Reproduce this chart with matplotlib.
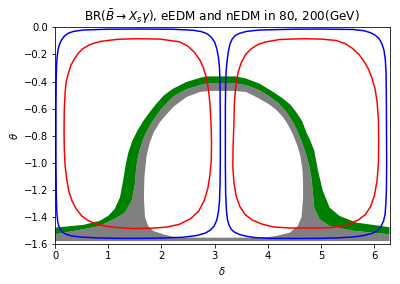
import numpy as np
import matplotlib
matplotlib.use("Agg")
import matplotlib.pyplot as plt
from matplotlib.patches import Polygon

# ---- data (delta, theta) ----
blue_left_x = [0.025, 0.018, 0.018, 0.022, 0.03, 0.042, 0.06, 0.085, 0.12, 0.17, 0.24, 0.35, 0.53, 1.0, 1.57, 2.2, 2.6, 2.75, 2.86, 2.94, 3.0, 3.04, 3.07, 3.09, 3.10, 3.105, 3.105, 3.10, 3.09, 3.07, 3.04, 2.99, 2.92, 2.82, 2.65, 2.4, 2.0, 1.6, 1.16, 0.8, 0.46, 0.3, 0.2, 0.14, 0.1, 0.07, 0.05, 0.035]
blue_left_y = [-1.25, -1.0, -0.6, -0.4, -0.28, -0.21, -0.16, -0.125, -0.095, -0.068, -0.045, -0.03, -0.02, -0.014, -0.013, -0.014, -0.022, -0.032, -0.048, -0.075, -0.11, -0.16, -0.22, -0.30, -0.42, -0.7, -1.0, -1.15, -1.28, -1.36, -1.42, -1.465, -1.495, -1.518, -1.536, -1.548, -1.554, -1.556, -1.556, -1.553, -1.546, -1.537, -1.525, -1.51, -1.49, -1.465, -1.43, -1.37]

blue_right_x = [3.20, 3.20, 3.205, 3.215, 3.235, 3.26, 3.29, 3.33, 3.39, 3.46, 3.6, 3.84, 4.5, 5.0, 5.6, 5.8, 5.93, 6.02, 6.09, 6.14, 6.18, 6.205, 6.22, 6.225, 6.23, 6.225, 6.215, 6.2, 6.17, 6.12, 6.05, 5.95, 5.8, 5.59, 5.3, 4.97, 4.5, 4.03, 3.75, 3.59, 3.46, 3.37, 3.31, 3.27, 3.24, 3.22, 3.205]
blue_right_y = [-1.0, -0.6, -0.42, -0.32, -0.24, -0.17, -0.12, -0.085, -0.06, -0.045, -0.03, -0.02, -0.014, -0.013, -0.016, -0.025, -0.04, -0.06, -0.085, -0.12, -0.17, -0.24, -0.35, -0.6, -1.0, -1.2, -1.3, -1.38, -1.43, -1.47, -1.5, -1.52, -1.535, -1.546, -1.553, -1.556, -1.557, -1.556, -1.55, -1.54, -1.527, -1.51, -1.49, -1.46, -1.42, -1.35, -1.22]

red_left_x = [0.17, 0.175, 0.19, 0.21, 0.25, 0.30, 0.36, 0.44, 0.53, 0.65, 0.84, 1.16, 1.5, 1.97, 2.34, 2.50, 2.62, 2.72, 2.79, 2.84, 2.88, 2.91, 2.93, 2.94, 2.935, 2.91, 2.87, 2.80, 2.70, 2.55, 2.34, 2.1, 1.8, 1.47, 1.2, 0.97, 0.78, 0.62, 0.50, 0.40, 0.32, 0.26, 0.22, 0.19, 0.175]
red_left_y = [-0.76, -0.6, -0.48, -0.40, -0.34, -0.28, -0.235, -0.19, -0.156, -0.128, -0.105, -0.089, -0.084, -0.087, -0.107, -0.14, -0.185, -0.24, -0.30, -0.37, -0.45, -0.56, -0.7, -0.85, -0.98, -1.09, -1.19, -1.28, -1.355, -1.41, -1.452, -1.473, -1.482, -1.484, -1.478, -1.468, -1.45, -1.425, -1.39, -1.34, -1.28, -1.21, -1.12, -1.02, -0.9]

red_right_x = [3.36, 3.37, 3.40, 3.44, 3.50, 3.58, 3.68, 3.82, 3.97, 4.22, 4.66, 5.0, 5.28, 5.45, 5.59, 5.71, 5.81, 5.89, 5.95, 6.01, 6.05, 6.075, 6.08, 6.075, 6.05, 6.0, 5.93, 5.83, 5.70, 5.47, 5.2, 4.97, 4.41, 4.1, 3.88, 3.70, 3.57, 3.47, 3.40, 3.36, 3.34, 3.345]
red_right_y = [-0.72, -0.55, -0.42, -0.33, -0.26, -0.20, -0.16, -0.125, -0.107, -0.09, -0.084, -0.087, -0.097, -0.12, -0.156, -0.20, -0.255, -0.31, -0.37, -0.45, -0.55, -0.68, -0.85, -1.0, -1.13, -1.24, -1.32, -1.38, -1.42, -1.46, -1.476, -1.48, -1.48, -1.472, -1.45, -1.42, -1.38, -1.32, -1.24, -1.14, -1.03, -0.88]

green_outer_x = [0.0, 0.53, 0.84, 1.0, 1.12, 1.22, 1.28, 1.33, 1.38, 1.45, 1.55, 1.66, 1.78, 1.90, 2.05, 2.22, 2.47, 2.72, 2.84, 3.4, 3.59, 3.84, 4.1, 4.28, 4.42, 4.53, 4.64, 4.72, 4.80, 4.87, 4.94, 5.03, 5.16, 5.34, 5.66, 6.03, 6.2832]
green_outer_y = [-1.477, -1.457, -1.427, -1.39, -1.34, -1.255, -1.13, -1.007, -0.92, -0.84, -0.76, -0.69, -0.625, -0.565, -0.5, -0.452, -0.403, -0.373, -0.362, -0.362, -0.378, -0.415, -0.477, -0.525, -0.57, -0.625, -0.69, -0.773, -0.84, -0.909, -1.057, -1.205, -1.33, -1.39, -1.44, -1.46, -1.474]

green_inner_x = [0.0, 0.53, 0.84, 1.16, 1.31, 1.44, 1.50, 1.52, 1.55, 1.60, 1.67, 1.76, 1.87, 1.99, 2.12, 2.26, 2.47, 2.72, 2.84, 3.4, 3.59, 3.84, 4.03, 4.20, 4.34, 4.47, 4.56, 4.64, 4.72, 4.78, 4.82, 4.84, 4.87, 4.97, 5.16, 5.59, 6.2832]
green_inner_y = [-1.526, -1.489, -1.465, -1.403, -1.366, -1.28, -1.157, -1.057, -0.97, -0.89, -0.81, -0.74, -0.67, -0.605, -0.55, -0.5, -0.457, -0.427, -0.415, -0.415, -0.427, -0.464, -0.51, -0.56, -0.62, -0.70, -0.77, -0.85, -0.94, -1.03, -1.12, -1.205, -1.33, -1.415, -1.465, -1.50, -1.526]

grey_inner_x = [2.3, 2.15, 2.03, 1.84, 1.75, 1.69, 1.67, 1.68, 1.72, 1.78, 1.86, 1.97, 2.1, 2.22, 2.47, 2.72, 2.9, 3.35, 3.59, 3.84, 4.03, 4.16, 4.28, 4.38, 4.47, 4.55, 4.61, 4.65, 4.66, 4.66, 4.63, 4.56, 4.41, 4.16, 4.03, 3.9]
grey_inner_y = [-1.551, -1.538, -1.526, -1.50, -1.465, -1.40, -1.255, -1.1, -0.95, -0.85, -0.77, -0.70, -0.64, -0.588, -0.514, -0.477, -0.469, -0.469, -0.477, -0.526, -0.57, -0.61, -0.66, -0.72, -0.79, -0.87, -0.95, -1.057, -1.15, -1.255, -1.40, -1.465, -1.514, -1.538, -1.546, -1.551]

grey_floor = -1.576
x_ticks = [0, 1, 2, 3, 4, 5, 6]
y_ticks = [0.0, -0.2, -0.4, -0.6, -0.8, -1.0, -1.2, -1.4, -1.6]

fig = plt.figure(figsize=(400 / 72, 284 / 72), dpi=72)
ax = fig.add_axes([55 / 400, 1 - 244.3 / 284, (389.5 - 55) / 400, (244.3 - 27.3) / 284])

# grey region: from floor up to green inner edge
gx = [0.0, 2 * np.pi] + green_inner_x[::-1]
gy = [grey_floor, grey_floor] + green_inner_y[::-1]
ax.fill(gx, gy, color="grey", lw=0)
# white interior of the arch
ax.fill(grey_inner_x, grey_inner_y, color="white", lw=0)
# green band
ax.fill(green_outer_x + green_inner_x[::-1], green_outer_y + green_inner_y[::-1], color="green", lw=0)

# closed contour loops
for xs, ys, col in [(blue_left_x, blue_left_y, "blue"), (blue_right_x, blue_right_y, "blue"),
                    (red_left_x, red_left_y, "red"), (red_right_x, red_right_y, "red")]:
    ax.add_patch(Polygon(np.column_stack([xs, ys]), closed=True, fill=False,
                         edgecolor=col, lw=1.5, joinstyle="round"))

ax.set_xlim(0, 2 * np.pi)
ax.set_ylim(-1.6, 0.0)
ax.set_xticks(x_ticks)
ax.set_yticks(y_ticks)
ax.set_xlabel(r"$\delta$")
ax.set_ylabel(r"$\theta$")
ax.set_title(r"BR($\bar{B}\to X_s\gamma$), eEDM and nEDM in 80, 200(GeV)")

fig.savefig("out.png", dpi=72)
